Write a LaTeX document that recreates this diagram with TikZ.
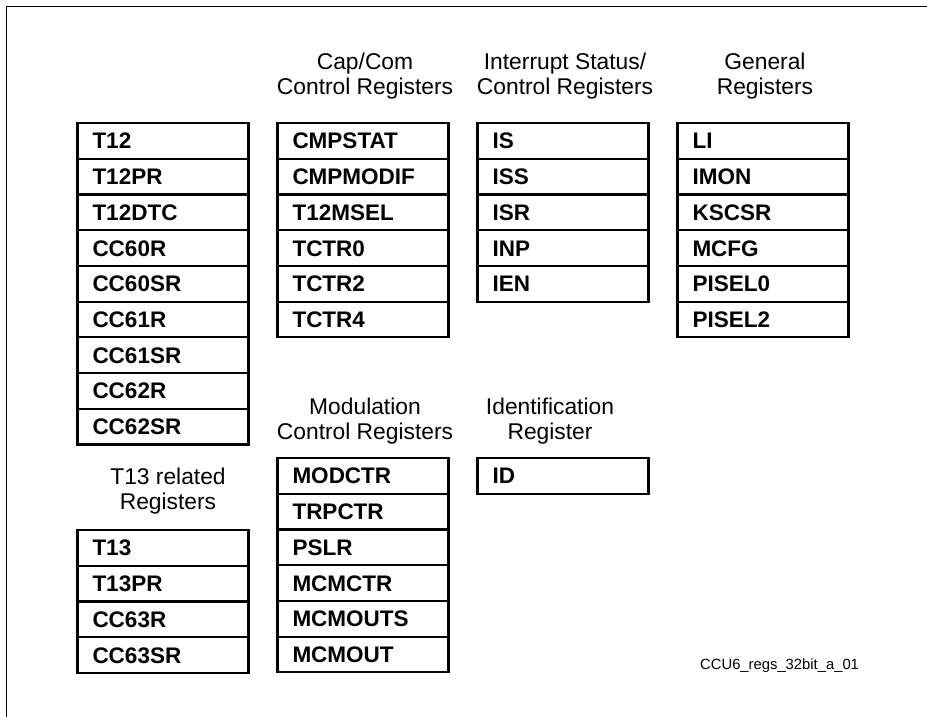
\documentclass[tikz,border=0pt]{standalone}
\usepackage{fontspec}
\setmainfont{Liberation Sans}
\usetikzlibrary{positioning}

\begin{document}
\begin{tikzpicture}[
    x=1pt, y=-1pt,
    reg/.style={draw, line width=2.2pt, outer sep=0pt, minimum height=35.7pt,
        text width=141pt, inner xsep=15pt, inner ysep=0pt, align=left,
        text height=15.8pt, text depth=0pt,
        font=\bfseries\fontsize{22.5}{24}\selectfont},
    hdr/.style={align=center, inner sep=0pt, font=\fontsize{22.8}{25}\selectfont},
    tag/.style={inner sep=0pt, font=\fontsize{14.8}{16}\selectfont}
]
\useasboundingbox (0,0) rectangle (927,717);

% Moldura
\draw[line width=1pt] (927,7) -- (6,7) -- (6,717);

% Coluna 1 (T12)
\node[reg] (t12) at (163,141) {T12};
\node[reg, below=0pt of t12] (t12pr) {T12PR};
\node[reg, below=0pt of t12pr] (t12dtc) {T12DTC};
\node[reg, below=0pt of t12dtc] (cc60r) {CC60R};
\node[reg, below=0pt of cc60r] (cc60sr) {CC60SR};
\node[reg, below=0pt of cc60sr] (cc61r) {CC61R};
\node[reg, below=0pt of cc61r] (cc61sr) {CC61SR};
\node[reg, below=0pt of cc61sr] (cc62r) {CC62R};
\node[reg, below=0pt of cc62r] (cc62sr) {CC62SR};

% Coluna 1 (T13)
\node[hdr] (ht13) at (168,491) {T13 related\\Registers};
\node[reg] (t13) at (163,548) {T13};
\node[reg, below=0pt of t13] (t13pr) {T13PR};
\node[reg, below=0pt of t13pr] (cc63r) {CC63R};
\node[reg, below=0pt of cc63r] (cc63sr) {CC63SR};

% Coluna 2 (Cap/Com)
\node[hdr] (hcapcom) at (365,76) {Cap/Com\\Control Registers};
\node[reg] (cmpstat) at (363,141) {CMPSTAT};
\node[reg, below=0pt of cmpstat] (cmpmodif) {CMPMODIF};
\node[reg, below=0pt of cmpmodif] (t12msel) {T12MSEL};
\node[reg, below=0pt of t12msel] (tctr0) {TCTR0};
\node[reg, below=0pt of tctr0] (tctr2) {TCTR2};
\node[reg, below=0pt of tctr2] (tctr4) {TCTR4};

% Coluna 2 (Modulacao)
\node[hdr] (hmod) at (365,421) {Modulation\\Control Registers};
\node[reg] (modctr) at (363,476) {MODCTR};
\node[reg, below=0pt of modctr] (trpctr) {TRPCTR};
\node[reg, below=0pt of trpctr] (pslr) {PSLR};
\node[reg, below=0pt of pslr] (mcmctr) {MCMCTR};
\node[reg, below=0pt of mcmctr] (mcmouts) {MCMOUTS};
\node[reg, below=0pt of mcmouts] (mcmout) {MCMOUT};

% Coluna 3 (Interrupcoes)
\node[hdr] (hint) at (565,76) {Interrupt Status/\\Control Registers};
\node[reg] (is) at (563,141) {IS};
\node[reg, below=0pt of is] (iss) {ISS};
\node[reg, below=0pt of iss] (isr) {ISR};
\node[reg, below=0pt of isr] (inp) {INP};
\node[reg, below=0pt of inp] (ien) {IEN};

% Coluna 3 (Identificacao)
\node[hdr] (hid) at (550,421) {Identification\\Register};
\node[reg] (id) at (563,476) {ID};

% Coluna 4 (Gerais)
\node[hdr] (hgen) at (765,76) {General\\Registers};
\node[reg] (li) at (763,141) {LI};
\node[reg, below=0pt of li] (imon) {IMON};
\node[reg, below=0pt of imon] (kscsr) {KSCSR};
\node[reg, below=0pt of kscsr] (mcfg) {MCFG};
\node[reg, below=0pt of mcfg] (pisel0) {PISEL0};
\node[reg, below=0pt of pisel0] (pisel2) {PISEL2};

% Identificador da figura
\node[tag, anchor=base west] (fig) at (700,669) {CCU6\_regs\_32bit\_a\_01};

\end{tikzpicture}
\end{document}
